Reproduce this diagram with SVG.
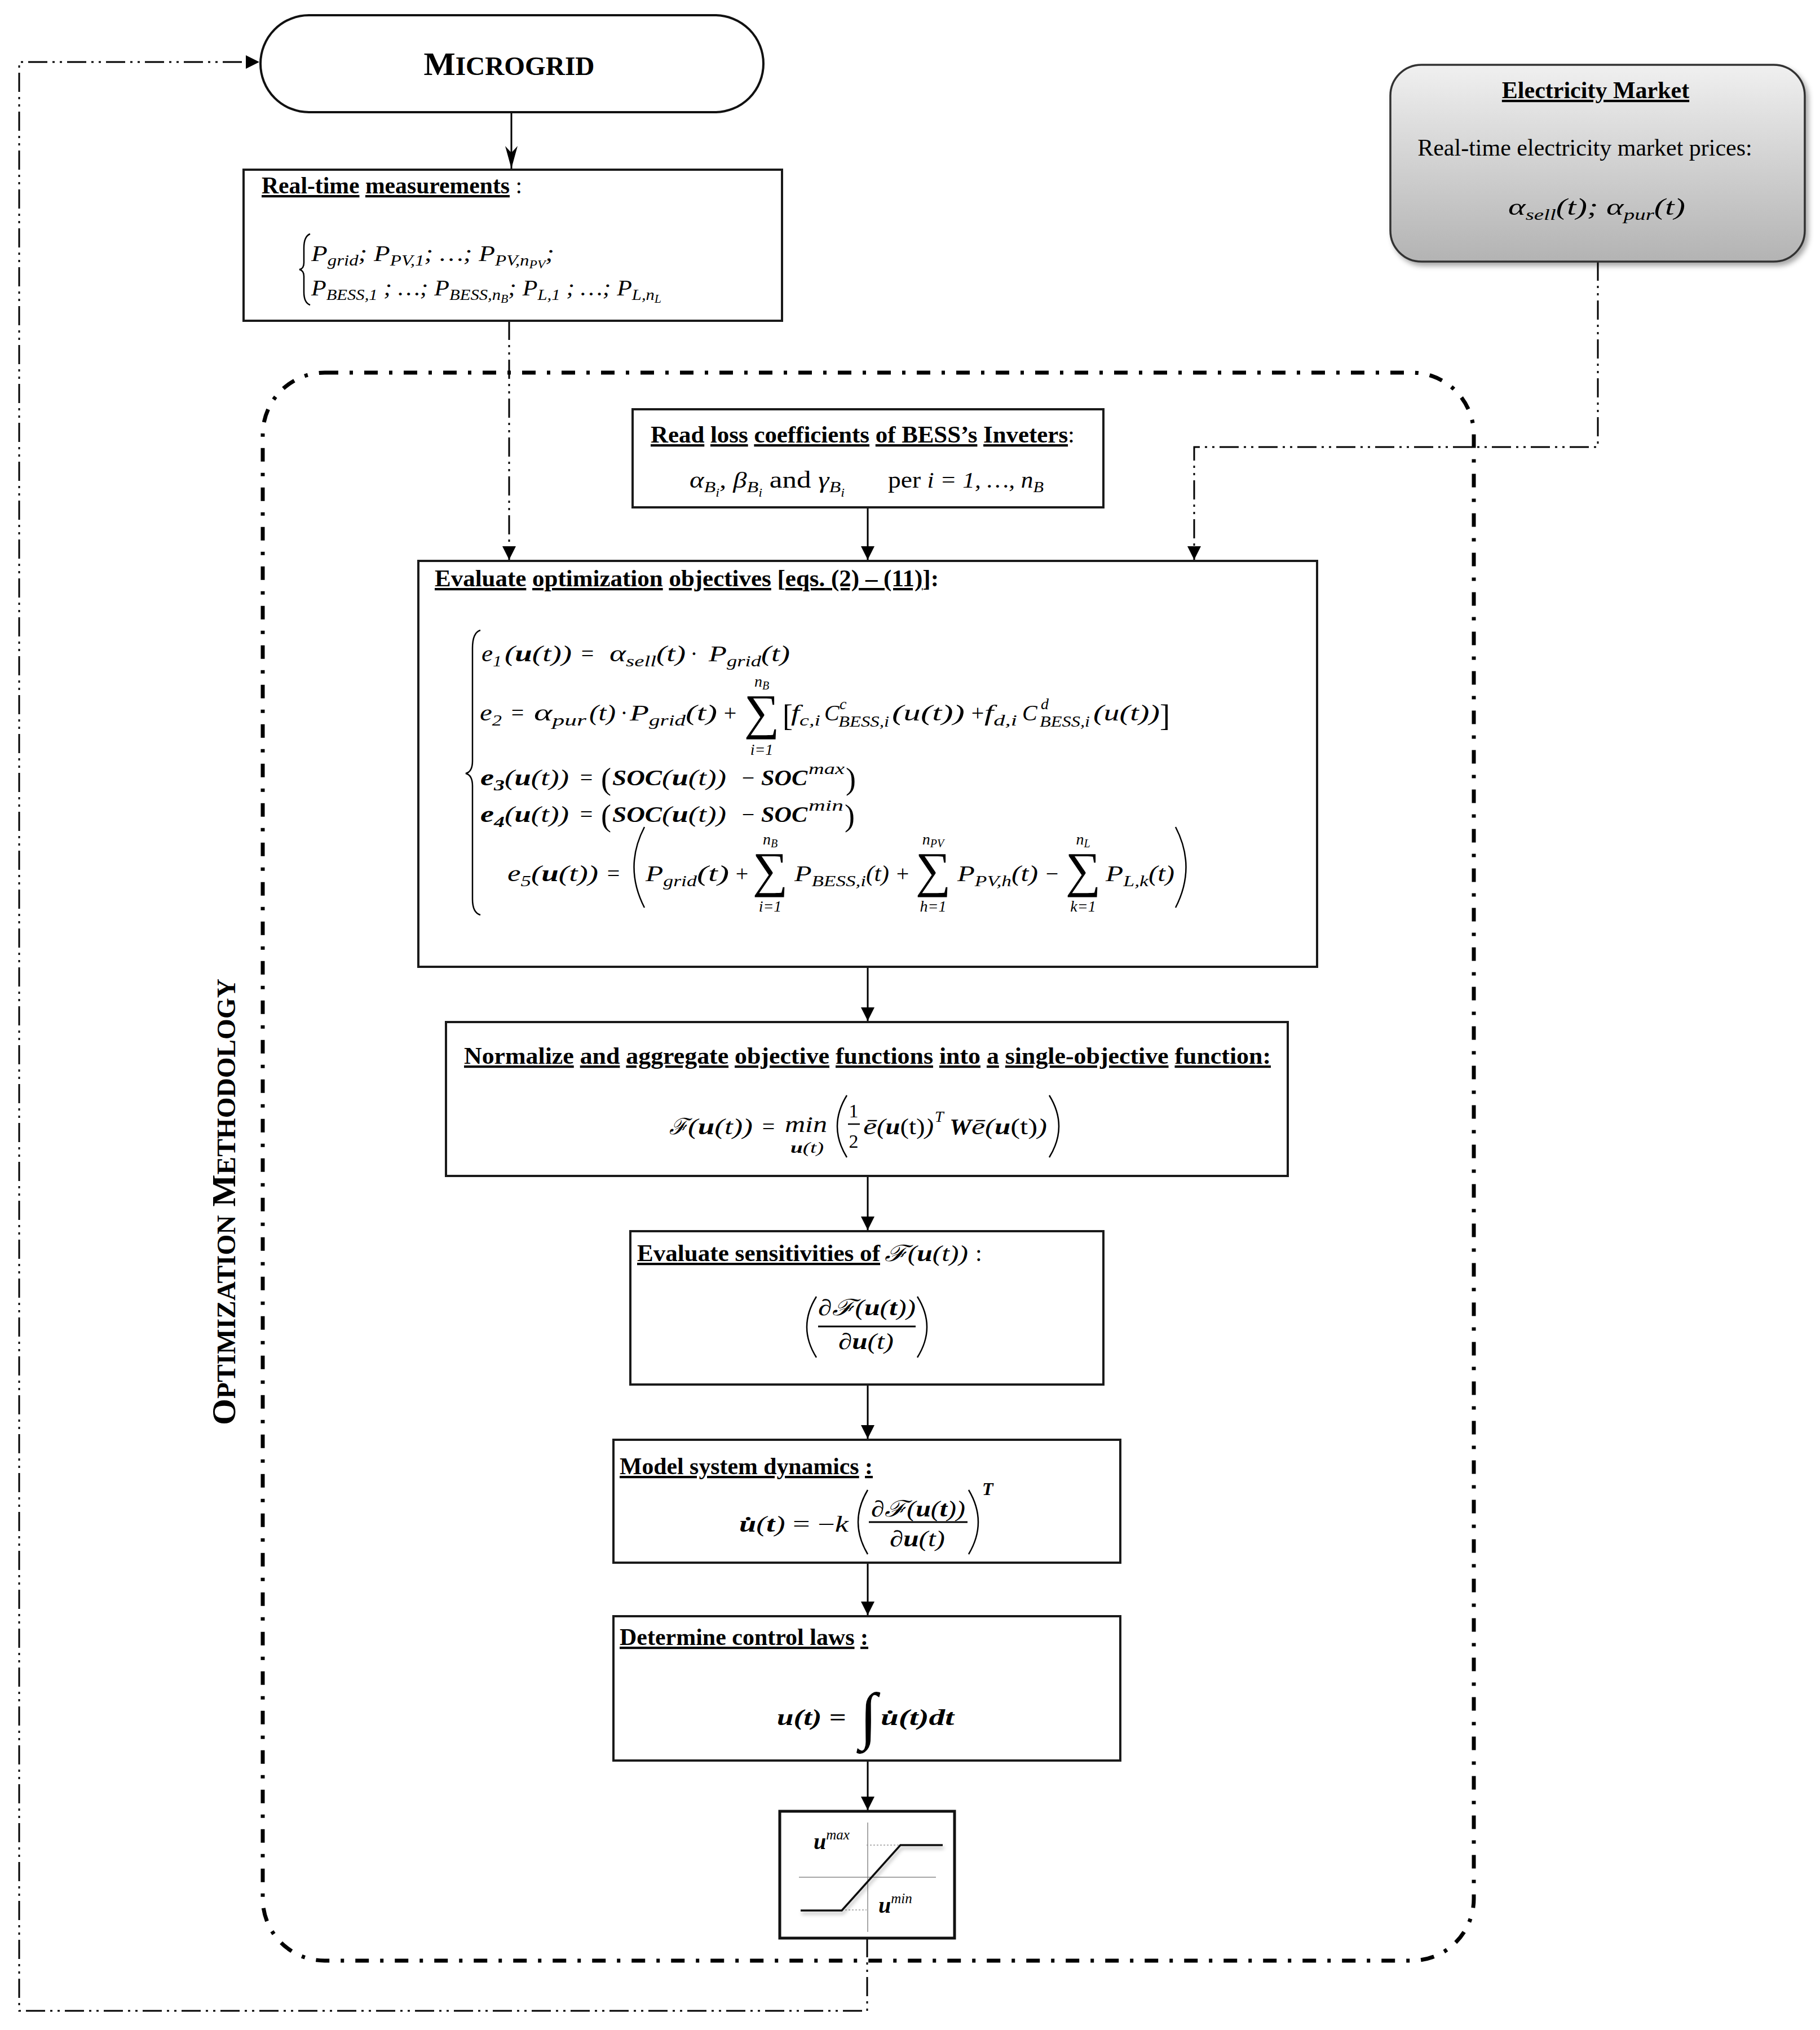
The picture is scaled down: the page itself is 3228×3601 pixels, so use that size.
<svg xmlns="http://www.w3.org/2000/svg" width="3228" height="3601" viewBox="0 0 3228 3601">
<defs>
<style>
.t{font-family:"Liberation Serif","Times New Roman",serif;font-size:42px;fill:#000}
.b{font-weight:bold}
.n{font-weight:normal}
.u{text-decoration:underline;text-decoration-thickness:3px}
.m{font-family:"Liberation Serif","DejaVu Serif",serif;font-style:italic;font-size:40px;fill:#000}
.o{font-family:"Liberation Serif","DejaVu Serif",serif;font-style:normal;font-size:40px;fill:#000}
.s{font-size:28px}
.ss{font-size:20px}
.bf{font-weight:bold}
.sum{font-family:"Liberation Serif","DejaVu Serif",serif;font-style:normal;font-size:88px;fill:#000}
.dl{font-family:"Liberation Serif","DejaVu Serif",serif;font-style:normal;font-size:54px;fill:#000}
.box{fill:#fff;stroke:#1a1a1a;stroke-width:4}
.ln{fill:none;stroke:#000;stroke-width:3}
.thin{fill:none;stroke:#000;stroke-width:2.5}
.dd{fill:none;stroke:#000;stroke-width:3;stroke-dasharray:34 9 4 9 4 9}
.frame{fill:none;stroke:#000;stroke-width:7;stroke-dasharray:24 20 6 20}
</style>
<marker id="ah" markerUnits="userSpaceOnUse" markerWidth="26" markerHeight="24" refX="24" refY="12" orient="auto" viewBox="0 0 26 24"><path d="M0,0 L24,12 L0,24 z" fill="#000"/></marker>
<marker id="ah2" markerUnits="userSpaceOnUse" markerWidth="42" markerHeight="24" refX="40" refY="12" orient="auto" viewBox="0 0 42 24"><path d="M0,1 L40,12 L0,23 L12,12 z" fill="#000"/></marker>
<linearGradient id="g" x1="0" y1="0" x2="0" y2="1"><stop offset="0" stop-color="#f0f0f0"/><stop offset="1" stop-color="#b3b3b3"/></linearGradient>
<filter id="sh" x="-10%" y="-10%" width="130%" height="130%"><feDropShadow dx="5" dy="6" stdDeviation="5" flood-color="#000" flood-opacity="0.35"/></filter>
<filter id="sh2" x="-20%" y="-20%" width="140%" height="140%"><feDropShadow dx="2" dy="5" stdDeviation="3" flood-color="#000" flood-opacity="0.3"/></filter>
</defs>

<!-- connectors -->
<g id="connectors">
<line class="ln" x1="907" y1="199" x2="907" y2="299" marker-end="url(#ah2)"/>
<path class="dd" d="M903,569 V993" marker-end="url(#ah)"/>
<path class="dd" d="M2834,464 V793 H2118 V993" marker-end="url(#ah)"/>
<line class="ln" x1="1539" y1="900" x2="1539" y2="993" marker-end="url(#ah)"/>
<line class="ln" x1="1539" y1="1715" x2="1539" y2="1811" marker-end="url(#ah)"/>
<line class="ln" x1="1539" y1="2086" x2="1539" y2="2182" marker-end="url(#ah)"/>
<line class="ln" x1="1539" y1="2456" x2="1539" y2="2552" marker-end="url(#ah)"/>
<line class="ln" x1="1539" y1="2772" x2="1539" y2="2865" marker-end="url(#ah)"/>
<line class="ln" x1="1539" y1="3123" x2="1539" y2="3211" marker-end="url(#ah)"/>
<path class="dd" d="M1538,3438 V3567 H34 V110 H460" marker-end="url(#ah)"/>
</g>

<!-- optimization methodology frame -->
<g id="optimization-frame">
<rect class="frame" x="466" y="661" width="2148" height="2817" rx="110" ry="110"/>
<text class="t b" transform="translate(417,2132) rotate(-90)" text-anchor="middle" style="font-size:60px" textLength="792" lengthAdjust="spacingAndGlyphs">O<tspan style="font-size:47px">PTIMIZATION</tspan> M<tspan style="font-size:47px">ETHODOLOGY</tspan></text>
</g>

<!-- Microgrid -->
<g id="microgrid">
<rect x="462" y="27" width="892" height="172" rx="86" ry="86" fill="#fff" stroke="#111" stroke-width="4"/>
<text class="t b" x="903" y="133" text-anchor="middle" style="font-size:58px" textLength="303" lengthAdjust="spacingAndGlyphs">M<tspan style="font-size:46px">ICROGRID</tspan></text>
</g>

<!-- Real-time measurements -->
<g id="measurements">
<rect class="box" x="432" y="301" width="955" height="268"/>
<text class="t b" x="464" y="343" textLength="462" lengthAdjust="spacingAndGlyphs"><tspan class="u">Real-time</tspan> <tspan class="u">measurements</tspan><tspan class="n"> :</tspan></text>
<path class="thin" d="M550,415 Q539,419 539,440 L539,466 Q539,477 531,478 Q539,480 539,490 L539,518 Q539,537 550,541"/>
<text class="m" x="552" y="463" textLength="431" lengthAdjust="spacingAndGlyphs">P<tspan class="s" dy="8">grid</tspan><tspan dy="-8">; P</tspan><tspan class="s" dy="8">PV,1</tspan><tspan dy="-8">; …; P</tspan><tspan class="s" dy="8">PV,n</tspan><tspan class="ss" dy="5">PV</tspan><tspan dy="-13">;</tspan></text>
<text class="m" x="552" y="524" textLength="621" lengthAdjust="spacingAndGlyphs">P<tspan class="s" dy="8">BESS,1</tspan><tspan dy="-8"> ; …; P</tspan><tspan class="s" dy="8">BESS,n</tspan><tspan class="ss" dy="5">B</tspan><tspan dy="-13">; P</tspan><tspan class="s" dy="8">L,1</tspan><tspan dy="-8"> ; …; P</tspan><tspan class="s" dy="8">L,n</tspan><tspan class="ss" dy="5">L</tspan></text>
</g>

<!-- Electricity Market -->
<g id="electricity-market">
<rect x="2466" y="115" width="735" height="349" rx="55" ry="55" fill="url(#g)" stroke="#333" stroke-width="3.5" filter="url(#sh)"/>
<text class="t b" x="2830" y="174" text-anchor="middle"><tspan class="u">Electricity Market</tspan></text>
<text class="t" x="2811" y="276" text-anchor="middle">Real-time electricity market prices:</text>
<text class="m" x="2675" y="381" style="font-size:42px" textLength="314" lengthAdjust="spacingAndGlyphs">α<tspan class="s" dy="9">sell</tspan><tspan dy="-9">(t); α</tspan><tspan class="s" dy="9">pur</tspan><tspan dy="-9">(t)</tspan></text>
</g>

<!-- Read loss coefficients -->
<g id="read-loss">
<rect class="box" x="1122" y="726" width="835" height="174"/>
<text class="t b" x="1154" y="785" textLength="752" lengthAdjust="spacingAndGlyphs"><tspan class="u">Read</tspan> <tspan class="u">loss</tspan> <tspan class="u">coefficients</tspan>  <tspan class="u">of BESS’s</tspan> <tspan class="u">Inveters</tspan><tspan class="n">:</tspan></text>
<text class="m" x="1223" y="865" textLength="275" lengthAdjust="spacingAndGlyphs">α<tspan class="s" dy="8">B</tspan><tspan class="ss" dy="8">i</tspan><tspan dy="-16">, β</tspan><tspan class="s" dy="8">B</tspan><tspan class="ss" dy="8">i</tspan><tspan dy="-16" style="font-style:normal;font-size:42px"> and </tspan>γ<tspan class="s" dy="8">B</tspan><tspan class="ss" dy="8">i</tspan></text>
<text class="m" x="1575" y="865" textLength="276" lengthAdjust="spacingAndGlyphs"><tspan style="font-style:normal;font-size:42px">per </tspan>i = 1, …, n<tspan class="s" dy="8">B</tspan></text>
</g>

<!-- Evaluate optimization objectives -->
<g id="evaluate-objectives">
<rect class="box" x="742" y="995" width="1594" height="720"/>
<text class="t b" x="771" y="1040" textLength="894" lengthAdjust="spacingAndGlyphs"><tspan class="u">Evaluate</tspan> <tspan class="u">optimization</tspan>  <tspan class="u">objectives</tspan> [<tspan class="u">eqs. (2) – (11)</tspan>]:</text>
<path class="thin" d="M852,1118 Q838,1122 838,1150 L838,1350 Q838,1369 826,1372 Q838,1375 838,1394 L838,1595 Q838,1619 852,1623"/>

<!-- e1 -->
<text class="m" x="854" y="1173" textLength="36" lengthAdjust="spacingAndGlyphs">e<tspan class="s" dy="9">1</tspan></text>
<text class="m" x="895" y="1173" textLength="119" lengthAdjust="spacingAndGlyphs">(<tspan class="bf">u</tspan>(t))</text>
<text class="o" x="1042" y="1173" text-anchor="middle">=</text>
<text class="m" x="1081" y="1173" textLength="83" lengthAdjust="spacingAndGlyphs">α<tspan class="s" dy="9">sell</tspan></text>
<text class="m" x="1164" y="1173" textLength="52" lengthAdjust="spacingAndGlyphs">(t)</text>
<text class="o" x="1231" y="1173" text-anchor="middle">·</text>
<text class="m" x="1257" y="1173" textLength="93" lengthAdjust="spacingAndGlyphs">P<tspan class="s" dy="9">grid</tspan></text>
<text class="m" x="1350" y="1173" textLength="51" lengthAdjust="spacingAndGlyphs">(t)</text>

<!-- e2 -->
<text class="m" x="851" y="1278" textLength="39" lengthAdjust="spacingAndGlyphs">e<tspan class="s" dy="9">2</tspan></text>
<text class="o" x="918" y="1278" text-anchor="middle">=</text>
<text class="m" x="947" y="1278" textLength="93" lengthAdjust="spacingAndGlyphs">α<tspan class="s" dy="9">pur</tspan></text>
<text class="m" x="1045" y="1278" textLength="47" lengthAdjust="spacingAndGlyphs">(t)</text>
<text class="o" x="1107" y="1278" text-anchor="middle">·</text>
<text class="m" x="1117" y="1278" textLength="99" lengthAdjust="spacingAndGlyphs">P<tspan class="s" dy="9">grid</tspan></text>
<text class="m" x="1216" y="1278" textLength="56" lengthAdjust="spacingAndGlyphs">(t)</text>
<text class="o" x="1295" y="1278" text-anchor="middle">+</text>
<text class="sum" x="1351" y="1293" text-anchor="middle">∑</text>
<text class="m s" x="1351" y="1218" text-anchor="middle">n<tspan class="ss" dy="5">B</tspan></text>
<text class="m s" x="1351" y="1339" text-anchor="middle">i=1</text>
<text class="dl" x="1388" y="1288">[</text>
<text class="m" x="1403" y="1278" textLength="52" lengthAdjust="spacingAndGlyphs">f<tspan class="s" dy="9">c,i</tspan></text>
<text class="m" x="1462" y="1278">C</text>
<text class="m s" x="1489" y="1258">c</text>
<text class="m s" x="1487" y="1289" textLength="90" lengthAdjust="spacingAndGlyphs">BESS,i</text>
<text class="m" x="1582" y="1278" textLength="129" lengthAdjust="spacingAndGlyphs">(u(t))</text>
<text class="o" x="1734" y="1278" text-anchor="middle">+</text>
<text class="m" x="1746" y="1278" textLength="58" lengthAdjust="spacingAndGlyphs">f<tspan class="s" dy="9">d,i</tspan></text>
<text class="m" x="1813" y="1278">C</text>
<text class="m s" x="1846" y="1258">d</text>
<text class="m s" x="1844" y="1289" textLength="89" lengthAdjust="spacingAndGlyphs">BESS,i</text>
<text class="m" x="1939" y="1278" textLength="118" lengthAdjust="spacingAndGlyphs">(u(t))</text>
<text class="dl" x="2057" y="1288">]</text>

<!-- e3 -->
<text class="m bf" x="852" y="1393" textLength="43" lengthAdjust="spacingAndGlyphs">e<tspan class="s" dy="9">3</tspan></text>
<text class="m" x="895" y="1393" textLength="114" lengthAdjust="spacingAndGlyphs">(<tspan class="bf">u</tspan>(t))</text>
<text class="o" x="1040" y="1393" text-anchor="middle">=</text>
<text class="dl" x="1066" y="1400">(</text>
<text class="m bf" x="1086" y="1393" textLength="88" lengthAdjust="spacingAndGlyphs">SOC</text>
<text class="m" x="1174" y="1393" textLength="114" lengthAdjust="spacingAndGlyphs">(<tspan class="bf">u</tspan>(t))</text>
<text class="o" x="1327" y="1393" text-anchor="middle">−</text>
<text class="m bf" x="1350" y="1393" textLength="82" lengthAdjust="spacingAndGlyphs">SOC</text>
<text class="m s" x="1434" y="1373" textLength="64" lengthAdjust="spacingAndGlyphs">max</text>
<text class="dl" x="1500" y="1400">)</text>

<!-- e4 -->
<text class="m bf" x="852" y="1458" textLength="43" lengthAdjust="spacingAndGlyphs">e<tspan class="s" dy="9">4</tspan></text>
<text class="m" x="895" y="1458" textLength="114" lengthAdjust="spacingAndGlyphs">(<tspan class="bf">u</tspan>(t))</text>
<text class="o" x="1040" y="1458" text-anchor="middle">=</text>
<text class="dl" x="1066" y="1465">(</text>
<text class="m bf" x="1086" y="1458" textLength="88" lengthAdjust="spacingAndGlyphs">SOC</text>
<text class="m" x="1174" y="1458" textLength="114" lengthAdjust="spacingAndGlyphs">(<tspan class="bf">u</tspan>(t))</text>
<text class="o" x="1327" y="1458" text-anchor="middle">−</text>
<text class="m bf" x="1350" y="1458" textLength="82" lengthAdjust="spacingAndGlyphs">SOC</text>
<text class="m s" x="1434" y="1438" textLength="62" lengthAdjust="spacingAndGlyphs">min</text>
<text class="dl" x="1498" y="1465">)</text>

<!-- e5 -->
<text class="m" x="900" y="1563" textLength="42" lengthAdjust="spacingAndGlyphs">e<tspan class="s" dy="9">5</tspan></text>
<text class="m" x="942" y="1563" textLength="119" lengthAdjust="spacingAndGlyphs">(<tspan class="bf">u</tspan>(t))</text>
<text class="o" x="1088" y="1563" text-anchor="middle">=</text>
<path class="thin" d="M1143,1467 Q1106,1538 1143,1610"/>
<text class="m" x="1145" y="1563" textLength="91" lengthAdjust="spacingAndGlyphs">P<tspan class="s" dy="9">grid</tspan></text>
<text class="m" x="1236" y="1563" textLength="57" lengthAdjust="spacingAndGlyphs">(t)</text>
<text class="o" x="1316" y="1563" text-anchor="middle">+</text>
<text class="sum" x="1366" y="1573" text-anchor="middle">∑</text>
<text class="m s" x="1366" y="1498" text-anchor="middle">n<tspan class="ss" dy="5">B</tspan></text>
<text class="m s" x="1366" y="1617" text-anchor="middle">i=1</text>
<text class="m" x="1409" y="1563" textLength="127" lengthAdjust="spacingAndGlyphs">P<tspan class="s" dy="9">BESS,i</tspan></text>
<text class="m" x="1536" y="1563" textLength="41" lengthAdjust="spacingAndGlyphs">(t)</text>
<text class="o" x="1601" y="1563" text-anchor="middle">+</text>
<text class="sum" x="1655" y="1573" text-anchor="middle">∑</text>
<text class="m s" x="1655" y="1498" text-anchor="middle">n<tspan class="ss" dy="5">PV</tspan></text>
<text class="m s" x="1655" y="1617" text-anchor="middle">h=1</text>
<text class="m" x="1698" y="1563" textLength="96" lengthAdjust="spacingAndGlyphs">P<tspan class="s" dy="9">PV,h</tspan></text>
<text class="m" x="1794" y="1563" textLength="47" lengthAdjust="spacingAndGlyphs">(t)</text>
<text class="o" x="1866" y="1563" text-anchor="middle">−</text>
<text class="sum" x="1921" y="1573" text-anchor="middle">∑</text>
<text class="m s" x="1921" y="1498" text-anchor="middle">n<tspan class="ss" dy="5">L</tspan></text>
<text class="m s" x="1921" y="1617" text-anchor="middle">k=1</text>
<text class="m" x="1961" y="1563" textLength="76" lengthAdjust="spacingAndGlyphs">P<tspan class="s" dy="9">L,k</tspan></text>
<text class="m" x="2037" y="1563" textLength="46" lengthAdjust="spacingAndGlyphs">(t)</text>
<path class="thin" d="M2085,1467 Q2122,1538 2085,1610"/>
</g>

<!-- Normalize and aggregate -->
<g id="normalize">
<rect class="box" x="791" y="1813" width="1493" height="273"/>
<text class="t b" x="823" y="1887" textLength="1431" lengthAdjust="spacingAndGlyphs"><tspan class="u">Normalize</tspan> <tspan class="u">and</tspan> <tspan class="u">aggregate</tspan> <tspan class="u">objective</tspan> <tspan class="u">functions</tspan> <tspan class="u">into</tspan> <tspan class="u">a</tspan> <tspan class="u">single-objective</tspan> <tspan class="u">function:</tspan></text>
<text class="m" x="1187" y="2012" textLength="33" lengthAdjust="spacingAndGlyphs">ℱ</text>
<text class="m" x="1220" y="2012" textLength="115" lengthAdjust="spacingAndGlyphs">(<tspan class="bf">u</tspan>(t))</text>
<text class="o" x="1363" y="2012" text-anchor="middle">=</text>
<text class="m" x="1392" y="2008" textLength="75" lengthAdjust="spacingAndGlyphs">min</text>
<text class="m s" x="1402" y="2045" textLength="59" lengthAdjust="spacingAndGlyphs"><tspan class="bf">u</tspan>(t)</text>
<path class="thin" d="M1502,1943 Q1468,1998 1502,2053"/>
<text class="o" x="1514" y="1982" text-anchor="middle" style="font-size:34px">1</text>
<line x1="1504" y1="1994" x2="1525" y2="1994" stroke="#000" stroke-width="2.5"/>
<text class="o" x="1514" y="2036" text-anchor="middle" style="font-size:34px">2</text>
<text class="m" x="1531" y="2012" textLength="24" lengthAdjust="spacingAndGlyphs">ē</text>
<text class="m" x="1555" y="2012" textLength="101" lengthAdjust="spacingAndGlyphs">(<tspan class="bf">u</tspan><tspan style="font-style:normal">(t)</tspan>)</text>
<text class="m s" x="1658" y="1990">T</text>
<text class="m bf" x="1684" y="2012" textLength="39" lengthAdjust="spacingAndGlyphs">W</text>
<text class="m" x="1723" y="2012" textLength="24" lengthAdjust="spacingAndGlyphs">ē</text>
<text class="m" x="1747" y="2012" textLength="110" lengthAdjust="spacingAndGlyphs">(<tspan class="bf">u</tspan><tspan style="font-style:normal">(t)</tspan>)</text>
<path class="thin" d="M1861,1943 Q1895,1998 1861,2053"/>
</g>

<!-- Evaluate sensitivities -->
<g id="sensitivities">
<rect class="box" x="1118" y="2184" width="839" height="272"/>
<text class="t b" x="1130" y="2237" textLength="431" lengthAdjust="spacingAndGlyphs"><tspan class="u">Evaluate sensitivities of</tspan></text>
<text class="m" x="1569" y="2237" textLength="148" lengthAdjust="spacingAndGlyphs">ℱ(<tspan class="bf">u</tspan>(t))</text>
<text class="t" x="1730" y="2237">:</text>
<path class="thin" d="M1448,2300 Q1414,2354 1448,2408"/>
<text class="m" x="1451" y="2333" textLength="173" lengthAdjust="spacingAndGlyphs">∂ℱ(<tspan class="bf">u</tspan>(<tspan class="bf">t</tspan>))</text>
<line x1="1451" y1="2353" x2="1624" y2="2353" stroke="#000" stroke-width="3"/>
<text class="m" x="1487" y="2393" textLength="98" lengthAdjust="spacingAndGlyphs">∂<tspan class="bf">u</tspan>(t)</text>
<path class="thin" d="M1627,2300 Q1661,2354 1627,2408"/>
</g>

<!-- Model system dynamics -->
<g id="model-dynamics">
<rect class="box" x="1088" y="2554" width="899" height="218"/>
<text class="t b" x="1099" y="2615" textLength="449" lengthAdjust="spacingAndGlyphs"><tspan class="u">Model system dynamics</tspan> <tspan class="u">:</tspan></text>
<text class="m" x="1311" y="2717" textLength="194" lengthAdjust="spacingAndGlyphs"><tspan class="bf">u̇</tspan>(<tspan class="bf">t</tspan>) <tspan style="font-style:normal">= −</tspan>k</text>
<path class="thin" d="M1539,2643 Q1505,2700 1539,2757"/>
<text class="m" x="1545" y="2690" textLength="167" lengthAdjust="spacingAndGlyphs">∂ℱ(<tspan class="bf">u</tspan>(<tspan class="bf">t</tspan>))</text>
<line x1="1541" y1="2700" x2="1716" y2="2700" stroke="#000" stroke-width="3"/>
<text class="m" x="1578" y="2743" textLength="98" lengthAdjust="spacingAndGlyphs">∂<tspan class="bf">u</tspan>(t)</text>
<path class="thin" d="M1718,2643 Q1752,2700 1718,2757"/>
<text class="m bf" x="1742" y="2652" style="font-size:32px">T</text>
</g>

<!-- Determine control laws -->
<g id="control-laws">
<rect class="box" x="1088" y="2867" width="899" height="256"/>
<text class="t b" x="1099" y="2918" textLength="441" lengthAdjust="spacingAndGlyphs"><tspan class="u">Determine control laws</tspan> <tspan class="u">:</tspan></text>
<text class="m bf" x="1378" y="3060" textLength="123" lengthAdjust="spacingAndGlyphs">u(t) <tspan style="font-style:normal">=</tspan></text>
<text class="o" x="1540" y="3081" text-anchor="middle" style="font-size:112px">∫</text>
<text class="m bf" x="1562" y="3060" textLength="130" lengthAdjust="spacingAndGlyphs">u̇(t)dt</text>
</g>

<!-- Saturation block -->
<g id="saturation">
<rect x="1383" y="3213" width="310" height="225" fill="#fff" stroke="#111" stroke-width="5"/>
<line x1="1539" y1="3233" x2="1539" y2="3427" stroke="#888" stroke-width="1.5"/>
<line x1="1417" y1="3330" x2="1660" y2="3330" stroke="#888" stroke-width="1.5"/>
<line x1="1537" y1="3273" x2="1597" y2="3273" stroke="#999" stroke-width="1.5" stroke-dasharray="3 3"/>
<line x1="1493" y1="3388" x2="1537" y2="3388" stroke="#999" stroke-width="1.5" stroke-dasharray="3 3"/>
<polyline points="1420,3389 1493,3389 1597,3273 1672,3273" fill="none" stroke="#111" stroke-width="3.5" filter="url(#sh2)"/>
<text class="m" x="1443" y="3280" style="font-size:40px"><tspan class="bf">u</tspan><tspan style="font-size:25px" dy="-17">max</tspan></text>
<text class="m" x="1558" y="3393" style="font-size:40px"><tspan class="bf">u</tspan><tspan style="font-size:25px" dy="-17">min</tspan></text>
</g>
</svg>
